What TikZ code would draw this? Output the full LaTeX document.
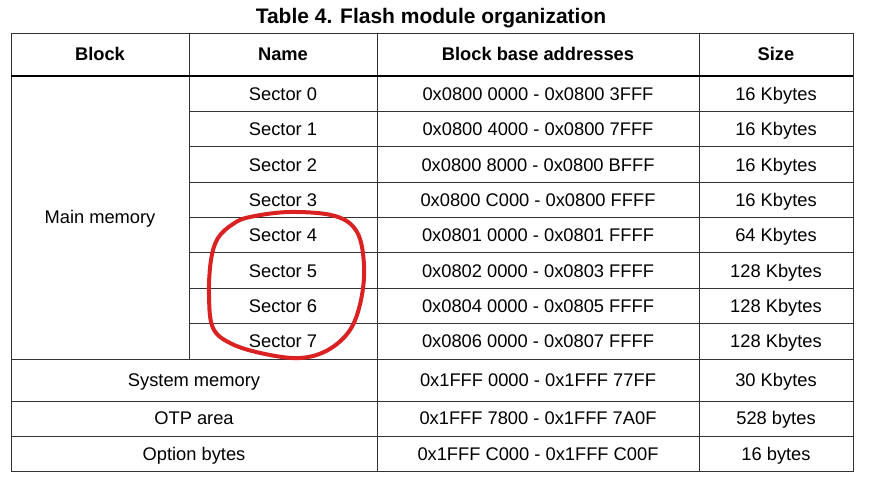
\documentclass[tikz,border=0pt]{standalone}
\usepackage{fontspec}
\setmainfont{Liberation Sans}
\usetikzlibrary{positioning}

\tikzset{
  cell/.style={font=\fontsize{18.3}{20}\selectfont, inner sep=0pt, text height=13.1pt, text depth=0pt},
  head/.style={cell, font=\fontsize{18.3}{20}\selectfont\bfseries},
  rule/.style={draw=black!80, line width=0.9pt},
  thickrule/.style={draw=black, line width=2.6pt},
  loop/.style={draw={rgb,255:red,218;green,34;blue,34}, line width=4pt, line cap=round}
}

\begin{document}
\begin{tikzpicture}[x=1pt,y=-1pt]
\useasboundingbox[fill=white] (0,0) rectangle (881,487);

\node[font=\fontsize{21}{24}\selectfont\bfseries, text height=15pt, text depth=0pt, inner sep=0pt] (title) at (431,16) {Table 4. Flash module organization};

% grid
\draw[rule] (11,33) rectangle (853,471);
\draw[rule] (189,33) -- (189,359);
\draw[rule] (377,33) -- (377,471);
\draw[rule] (699,33) -- (699,471);
\foreach \i in {1,...,7}
  \draw[rule] (189,76+35.375*\i) -- (853,76+35.375*\i);
\draw[rule] (11,359) -- (853,359);
\draw[rule] (11,401) -- (853,401);
\draw[rule] (11,436) -- (853,436);
\draw[thickrule] (11,76) -- (853,76);

% header
\node[head] (hblock) at (100,53.5) {Block};
\node[head] (hname) at (283,53.5) {Name};
\node[head] (haddr) at (538,53.5) {Block base addresses};
\node[head] (hsize) at (776,53.5) {Size};

\node[cell] (main) at (100,217) {Main memory};

\foreach \n/\a/\s in {0/0x0800 0000 - 0x0800 3FFF/16 Kbytes,
                      1/0x0800 4000 - 0x0800 7FFF/16 Kbytes,
                      2/0x0800 8000 - 0x0800 BFFF/16 Kbytes,
                      3/0x0800 C000 - 0x0800 FFFF/16 Kbytes,
                      4/0x0801 0000 - 0x0801 FFFF/64 Kbytes,
                      5/0x0802 0000 - 0x0803 FFFF/128 Kbytes,
                      6/0x0804 0000 - 0x0805 FFFF/128 Kbytes,
                      7/0x0806 0000 - 0x0807 FFFF/128 Kbytes}
{
  \node[cell] (sec\n) at (283,93.7+35.375*\n) {Sector \n};
  \node[cell] (addr\n) at (538,93.7+35.375*\n) {\a};
  \node[cell] (size\n) at (776,93.7+35.375*\n) {\s};
}

\node[cell] (sys) at (194,380) {System memory};
\node[cell] (sysaddr) at (538,380) {0x1FFF 0000 - 0x1FFF 77FF};
\node[cell] (syssize) at (776,380) {30 Kbytes};

\node[cell] (otp) at (194,418) {OTP area};
\node[cell] (otpaddr) at (538,418) {0x1FFF 7800 - 0x1FFF 7A0F};
\node[cell] (otpsize) at (776,418) {528 bytes};

\node[cell] (opt) at (194,453.5) {Option bytes};
\node[cell] (optaddr) at (538,453.5) {0x1FFF C000 - 0x1FFF C00F};
\node[cell] (optsize) at (776,453.5) {16 bytes};

% hand drawn mark
\draw[loop] plot[smooth cycle, tension=0.6] coordinates {
  (250,217) (290,212) (335,216) (357,232) (364,265) (361,300)
  (350,330) (328,350) (300,358) (265,354) (232,344) (213,328)
  (209,295) (211,260) (218,238) (233,224)};
\end{tikzpicture}
\end{document}
